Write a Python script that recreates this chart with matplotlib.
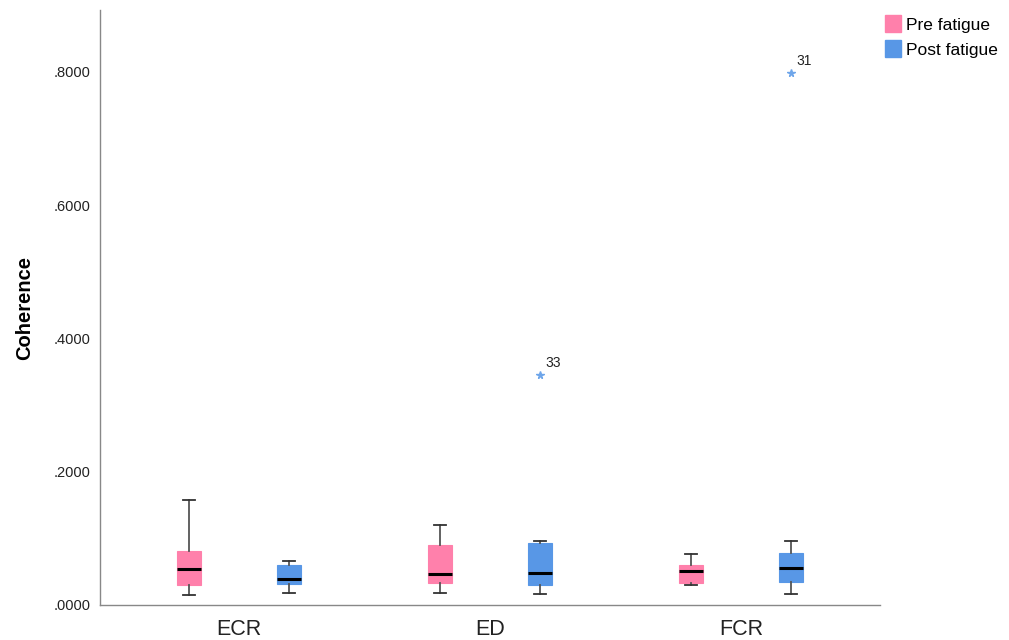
import numpy as np
import matplotlib.pyplot as plt
from matplotlib.patches import Patch
from matplotlib.ticker import FuncFormatter

plt.rcParams['font.family'] = ['Liberation Sans', 'DejaVu Sans']

# Kategorien und Gruppen
muskeln = ['ECR', 'ED', 'FCR']
gruppen = ['Pre fatigue', 'Post fatigue']
farben = ['#ff80ab', '#5897e6']

# Boxplot-Kennwerte (Pre, Post je Muskel)
pre_whislo = [0.0155, 0.0185, 0.0295]
pre_q1 = [0.0296, 0.0325, 0.0335]
pre_med = [0.0540, 0.0470, 0.0515]
pre_q3 = [0.0810, 0.0900, 0.0600]
pre_whishi = [0.1580, 0.1200, 0.0765]

post_whislo = [0.0175, 0.0170, 0.0160]
post_q1 = [0.0320, 0.0300, 0.0350]
post_med = [0.0395, 0.0480, 0.0560]
post_q3 = [0.0600, 0.0935, 0.0785]
post_whishi = [0.0660, 0.0966, 0.0956]

# Ausreisser (Wert, Fallnummer) je Muskel
post_ausreisser = [[], [(0.345, '33')], [(0.798, '31')]]

fig = plt.figure(figsize=(10.09, 6.4), dpi=100)
ax = fig.add_axes([100/1009, 35/640, 780/1009, 595/640])

x = np.arange(len(muskeln))
versatz = 0.2
breite = 0.097

def stats(lo, q1, med, q3, hi):
    return [dict(whislo=lo[i], q1=q1[i], med=med[i], q3=q3[i], whishi=hi[i], fliers=[])
            for i in range(len(lo))]

pre_stats = stats(pre_whislo, pre_q1, pre_med, pre_q3, pre_whishi)
post_stats = stats(post_whislo, post_q1, post_med, post_q3, post_whishi)

for st, pos, farbe in [(pre_stats, x - versatz, farben[0]), (post_stats, x + versatz, farben[1])]:
    ax.bxp(st, positions=pos, widths=breite, patch_artist=True, showfliers=False,
           boxprops=dict(facecolor=farbe, edgecolor=farbe, linewidth=0.8),
           medianprops=dict(color='black', linewidth=2.2),
           whiskerprops=dict(color='#555555', linewidth=1.3),
           capprops=dict(color='#333333', linewidth=1.3),
           capwidths=breite * 0.5, zorder=3)

# Ausreisser als Sterne mit Fallnummer
for i, liste in enumerate(post_ausreisser):
    for wert, nr in liste:
        ax.plot(x[i] + versatz, wert, marker='*', color='#6fa6ea', markersize=5.5,
                linestyle='none', zorder=4)
        ax.annotate(nr, (x[i] + versatz, wert), xytext=(4, 6), textcoords='offset points',
                    fontsize=10, color='#222222')

ax.set_xlim(-0.554, 2.554)
ax.set_ylim(0, 0.893)
ax.set_xticks(x)
ax.set_xticklabels(muskeln, fontsize=15.5, color='#222222')
ax.set_yticks([0, 0.2, 0.4, 0.6, 0.8])
ax.yaxis.set_major_formatter(FuncFormatter(lambda v, p: f'{v:.4f}'[1:] if v < 1 else f'{v:.4f}'))
ax.tick_params(axis='y', length=0, labelsize=10.5, pad=7, colors='#222222')
ax.tick_params(axis='x', length=0, pad=10)
ax.set_ylabel('Coherence', fontsize=14.5, fontweight='bold', labelpad=14)

for s in ['top', 'right']:
    ax.spines[s].set_visible(False)
for s in ['left', 'bottom']:
    ax.spines[s].set_color('#888888')
    ax.spines[s].set_linewidth(1.0)

handles = [Patch(facecolor=farben[0], edgecolor=farben[0]),
           Patch(facecolor=farben[1], edgecolor=farben[1])]
fig.legend(handles, gruppen, loc='upper left', bbox_to_anchor=(873/1009, 0.995),
           frameon=False, fontsize=12.5, handlelength=0.9, handleheight=1.1,
           handletextpad=0.3, labelspacing=0.45, borderaxespad=0.3)

fig.savefig('out.png', dpi=100)
